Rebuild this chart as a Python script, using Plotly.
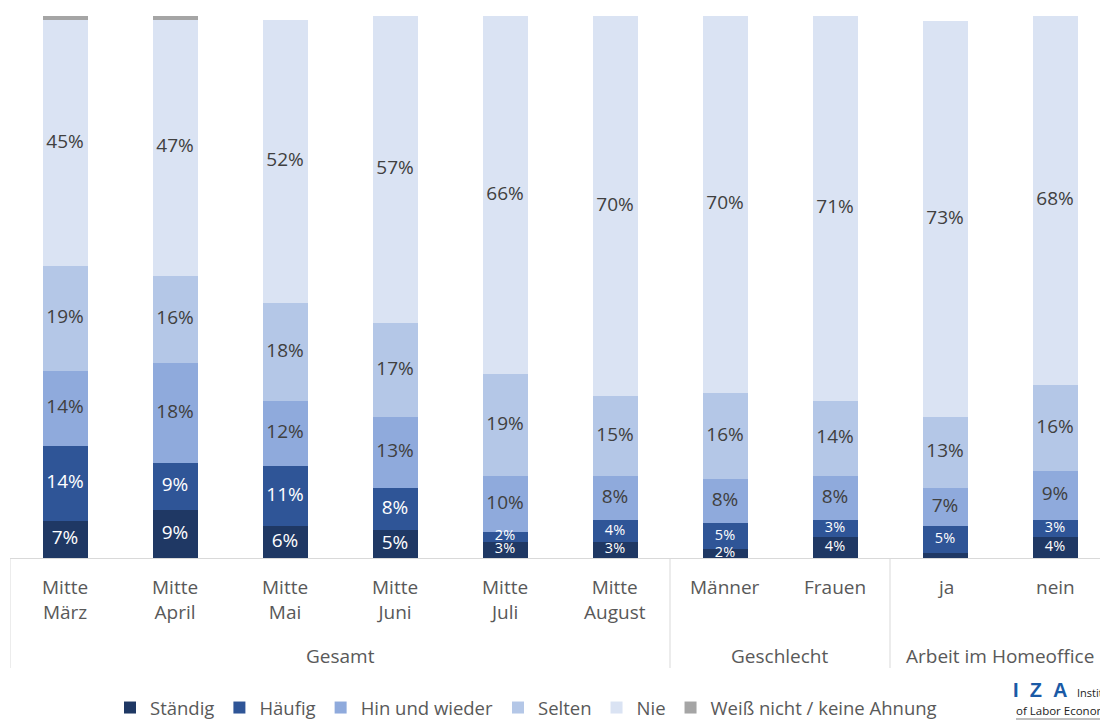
import numpy as np
import plotly.graph_objects as go

# ---- data ----
categories = ["Mitte<br>März", "Mitte<br>April", "Mitte<br>Mai", "Mitte<br>Juni", "Mitte<br>Juli",
              "Mitte<br>August", "Männer", "Frauen", "ja", "nein"]
groups = ["Gesamt", "Geschlecht", "Arbeit im Homeoffice"]
group_members = [[0, 1, 2, 3, 4, 5], [6, 7], [8, 9]]

series_names = ["Ständig", "Häufig", "Hin und wieder", "Selten", "Nie", "Weiß nicht / keine Ahnung"]
staendig = [6.8, 8.9, 5.9, 5.1, 3.0, 3.0, 1.6, 3.9, 0.9, 3.9]
haeufig = [13.9, 8.7, 11.1, 7.9, 1.8, 4.0, 4.9, 3.1, 5.0, 3.1]
hin_und_wieder = [13.8, 18.3, 12.0, 13.1, 10.3, 8.1, 8.1, 8.1, 7.0, 9.1]
selten = [19.4, 16.2, 18.1, 17.2, 18.8, 14.8, 15.8, 13.9, 13.1, 15.8]
nie = [45.4, 47.2, 52.1, 56.7, 66.1, 70.1, 69.6, 71.0, 73.1, 68.1]
weiss_nicht = [0.7, 0.7, 0, 0, 0, 0, 0, 0, 0, 0]

series_values = [staendig, haeufig, hin_und_wieder, selten, nie, weiss_nicht]

# ---- style ----
colors = ["#1f3864", "#2f5597", "#8faadc", "#b4c7e7", "#dae3f3", "#a5a5a5"]
label_colors = ["white", "white", "#404040", "#404040", "#404040", "#404040"]
FONT = "Open Sans"
GRAY = "#595959"

W, H = 1100, 724
ML, MR, MT, MB = 10, 0, 16, 166
PW, PH = W - ML - MR, H - MT - MB
BAND = 110.0


def py(pix):
    return (H - MB - pix) / PH


def px(pix):
    return (pix - ML) / PW


xidx = list(range(len(categories)))
fig = go.Figure()

for name, vals, col in zip(series_names, series_values, colors):
    fig.add_trace(go.Bar(x=xidx, y=vals, name=name, marker=dict(color=col, line=dict(width=0)),
                         hoverinfo="skip"))

# segment labels
lx, ly, lt, lc, ls = [], [], [], [], []
base = np.zeros(len(categories))
for si, vals in enumerate(series_values):
    v = np.array(vals, dtype=float)
    mids = base + v / 2
    for i in xidx:
        if v[i] >= 1.5 and si < 5:
            lx.append(i)
            ly.append(mids[i])
            lt.append(f"{round(v[i])}%")
            lc.append(label_colors[si])
            ls.append(19 if v[i] >= 5.05 else 14.5)
    base += v

fig.add_trace(go.Scatter(x=lx, y=ly, text=lt, mode="text", showlegend=False, hoverinfo="skip",
                         textfont=dict(color=lc, size=ls, family=FONT), cliponaxis=False))

annotations = []
# category labels
for i, c in enumerate(categories):
    annotations.append(dict(x=i, xref="x", y=py(572), yref="paper", text=c, showarrow=False,
                            yanchor="top", xanchor="center",
                            font=dict(family=FONT, size=19, color=GRAY)))
# group labels
for g, mem in zip(groups, group_members):
    annotations.append(dict(x=(mem[0] + mem[-1]) / 2, xref="x", y=py(656), yref="paper", text=g,
                            showarrow=False, yanchor="middle", xanchor="center",
                            font=dict(family=FONT, size=19, color=GRAY)))

# IZA logo text
annotations.append(dict(x=px(1011), y=py(690), xref="paper", yref="paper",
                        text="<b>I&nbsp;&nbsp;Z&nbsp;&nbsp;A</b>",
                        showarrow=False, xanchor="left", yanchor="middle",
                        font=dict(family="Liberation Sans", size=20, color="#1a5aa6")))
annotations.append(dict(x=px(1075), y=py(692), xref="paper", yref="paper", text="Institute",
                        showarrow=False, xanchor="left", yanchor="middle",
                        font=dict(family=FONT, size=11, color="#222222")))
annotations.append(dict(x=px(1014), y=py(710), xref="paper", yref="paper", text="of Labor Economics",
                        showarrow=False, xanchor="left", yanchor="middle",
                        font=dict(family=FONT, size=11.5, color="#222222")))

shapes = []
# group separators
for sep in [-0.5, 5.5, 7.5]:
    shapes.append(dict(type="line", xref="x", yref="paper", x0=sep, x1=sep, y0=0, y1=py(668),
                       line=dict(color="#d9d9d9", width=1)))
shapes.append(dict(type="line", xref="paper", yref="paper", x0=px(1016), x1=1.0, y0=py(719), y1=py(719),
                   line=dict(color="#aaaaaa", width=1.5)))

fig.update_layout(
    width=W, height=H,
    margin=dict(l=ML, r=MR, t=MT, b=MB),
    barmode="stack", bargap=1 - 45 / BAND,
    plot_bgcolor="white", paper_bgcolor="white",
    xaxis=dict(range=[-0.5, -0.5 + PW / BAND], showticklabels=False, showgrid=False, zeroline=False,
               showline=True, linecolor="#d9d9d9", linewidth=1, ticks=""),
    yaxis=dict(range=[0, 100], showticklabels=False, showgrid=False, zeroline=False, showline=False),
    legend=dict(orientation="h", xref="container", yref="container", x=110 / W, xanchor="left",
                y=(H - 708) / H, yanchor="middle", font=dict(family=FONT, size=18.5, color=GRAY),
                traceorder="normal", itemwidth=30, bgcolor="rgba(0,0,0,0)"),
    annotations=annotations,
    shapes=shapes,
    showlegend=True,
)

fig.write_html("out.html", config={"displayModeBar": False},
               post_script="document.body.style.margin='0';document.body.style.overflow='hidden';")
